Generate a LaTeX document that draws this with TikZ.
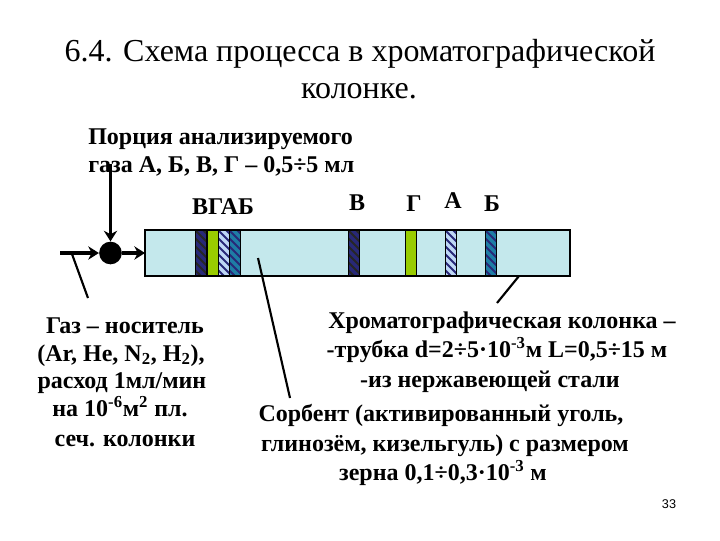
\documentclass[tikz,border=0pt]{standalone}
\usepackage{fontspec}
\setmainfont{Liberation Serif}
\setsansfont{Liberation Sans}
\usetikzlibrary{patterns,arrows.meta}
\definecolor{colfill}{RGB}{196,232,236}
\definecolor{navyb}{RGB}{40,40,120}
\definecolor{greenb}{RGB}{153,204,0}
\definecolor{lightb}{RGB}{190,215,245}
\definecolor{tealb}{RGB}{30,125,165}
\tikzset{
 x=0.75pt,y=-0.75pt,
 ttl/.style={font=\fontsize{24}{28}\selectfont,inner sep=0,anchor=base},
 lbl/.style={font=\bfseries\fontsize{18}{20}\selectfont,inner sep=0,anchor=base,text=black},
 band/.style={line width=0.6pt,inner sep=0,outer sep=0,anchor=north west,minimum width=8.5pt,minimum height=34.5pt,draw=black},
 col/.style={draw=black,line width=1.7pt,fill=colfill,inner sep=0,outer sep=0},
 arr/.style={line width=2.5pt,-{Stealth[length=8pt,width=10pt]}},
 lead/.style={line width=1.6pt},
}
\newcommand{\hatchband}[4]{%
 \node[band,fill=#3] (#1) at (#2,230) {};
 \begin{scope}
  \clip (#2,230) rectangle ++(11.5,46);
  \foreach \k in {-48,-40,...,16}{\draw[#4,line width=1.5pt] (#2+\k,230) -- ++(46,46);}
 \end{scope}
 \draw[line width=0.6pt] (#2,230) rectangle ++(11.5,46);
}
\begin{document}
\begin{tikzpicture}
\useasboundingbox (0,0) rectangle (720,540);
\fill[white] (0,0) rectangle (720,540);
\node[ttl] (t1) at (360,61) {6.4. Схема процесса в хроматографической};
\node[ttl] (t2) at (359,98) {колонке.};
\node[lbl,anchor=base west] (p1) at (88,144) {Порция анализируемого};
\node[lbl,anchor=base west] (p2) at (88,172) {газа А, Б, В, Г – 0,5÷5 мл};
\node[lbl] (s1) at (223,214) {ВГАБ};
\node[lbl] (s2) at (357,210) {В};
\node[lbl] (s3) at (414,211) {Г};
\node[lbl] (s4) at (453,208) {А};
\node[lbl] (s5) at (492,211) {Б};
\node[col,minimum width=318.75pt,minimum height=34.5pt,anchor=north west] (column) at (145,230) {};
\hatchband{b1}{195}{navyb}{black!85}
\node[band,fill=greenb] (b2) at (207,230) {};
\hatchband{b3}{218}{lightb}{navyb}
\hatchband{b4}{229}{tealb}{navyb}
\hatchband{b5}{348}{navyb}{black!85}
\node[band,fill=greenb] (b6) at (405,230) {};
\hatchband{b7}{445}{lightb}{navyb}
\hatchband{b8}{485}{tealb}{navyb}
\draw[line width=1.7pt] (column.north west) rectangle (column.south east);
\node[circle,fill=black,minimum size=17pt,inner sep=0] (jn) at (110.5,253) {};
\coordinate (top) at (110.5,164);
\coordinate (left) at (60,253);
\draw[arr] (top) -- (jn);
\draw[arr] (left) -- (jn);
\draw[arr] (jn) -- (column.west |- jn);
\coordinate (a1) at (72,254); \coordinate (a2) at (88,298);
\draw[lead] (a1) -- (a2);
\coordinate (c1) at (258,258); \coordinate (c2) at (290,398);
\draw[lead] (c1) -- (c2);
\coordinate (d1) at (519,276); \coordinate (d2) at (497,303);
\draw[lead] (d1) -- (d2);
\node[lbl] (g1) at (125,333) {Газ – носитель};
\node[lbl] (g2) at (121,361) {(Ar, He, N\textsubscript{2}, H\textsubscript{2}),};
\node[lbl] (g3) at (122,388) {расход 1мл/мин};
\node[lbl] (g4) at (120,416) {на 10\textsuperscript{-6}м\textsuperscript{2} пл.};
\node[lbl] (g5) at (125,446) {сеч. колонки};
\node[lbl] (h1) at (502,328) {Хроматографическая колонка –};
\node[lbl] (h2) at (497,357) {-трубка d=2÷5·10\textsuperscript{-3}м L=0,5÷15 м};
\node[lbl] (h3) at (490,387) {-из нержавеющей стали};
\node[lbl] (k1) at (441,421) {Сорбент (активированный уголь,};
\node[lbl] (k2) at (445,451) {глинозём, кизельгуль) с размером};
\node[lbl] (k3) at (443,480) {зерна 0,1÷0,3·10\textsuperscript{-3} м};
\node[font=\sffamily\fontsize{9.5}{11}\selectfont,inner sep=0,anchor=base] (n) at (669,508) {33};
\end{tikzpicture}
\end{document}
